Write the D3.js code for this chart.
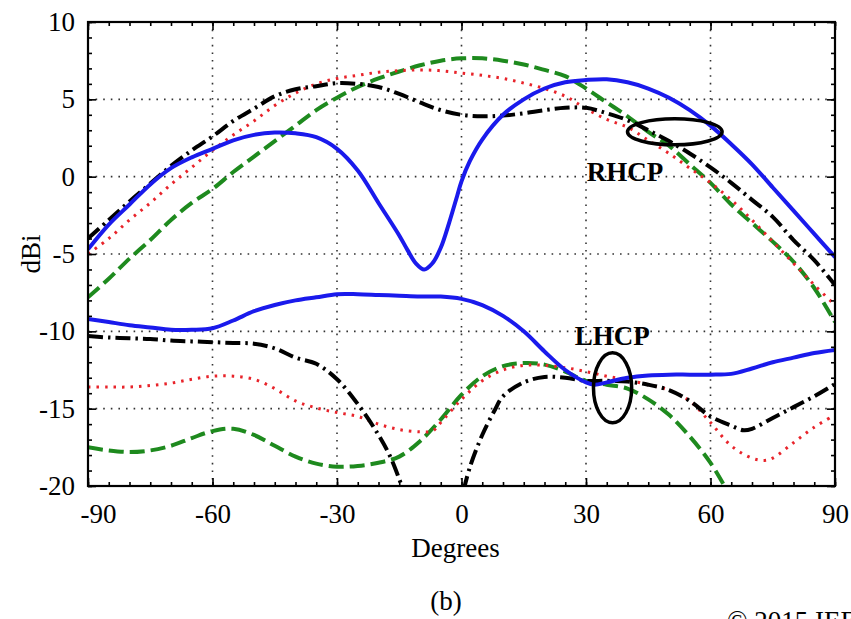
<!DOCTYPE html>
<html>
<head>
<meta charset="utf-8">
<script src="https://cdn.jsdelivr.net/npm/d3@7/dist/d3.min.js"></script>
<style>
  html, body { margin: 0; padding: 0; background: #fff; }
  svg { display: block; }
  text { font-family: "Liberation Serif", "Times New Roman", serif; fill: #000; }
</style>
</head>
<body>
<svg id="chart" width="851" height="619"></svg>
<script>
// ---------- data ----------
const xMajorTicks = [-90, -60, -30, 0, 30, 60, 90];
const xTickLabels = ["-90", "-60", "-30", "0", "30", "60", "90"];
const yMajorTicks = [10, 5, 0, -5, -10, -15, -20];
const yTickLabels = ["10", "5", "0", "-5", "-10", "-15", "-20"];
const xLabel = "Degrees";
const yLabel = "dBi";
const caption = "(b)";
const copyright = "© 2015 IEEE";

// RHCP curves: [degrees, dBi]
const rhcpBlue = [[-90,-4.7],[-85,-3.1],[-80,-1.8],[-75,-0.5],[-70,0.55],[-65,1.25],[-60,1.8],[-55,2.35],[-50,2.7],[-45,2.85],[-40,2.8],[-35,2.55],[-30,1.8],[-25,0.4],[-20,-1.7],[-15,-3.8],[-13,-4.75],[-11,-5.6],[-9,-6.0],[-7,-5.6],[-5,-4.6],[-3,-3.0],[-1,-1.2],[0,-0.3],[2,1.0],[5,2.4],[10,4.0],[15,5.0],[20,5.7],[25,6.1],[30,6.25],[35,6.3],[40,6.1],[45,5.7],[50,5.1],[55,4.3],[60,3.3],[65,2.1],[70,0.8],[75,-0.7],[80,-2.2],[85,-3.7],[90,-5.2]];
const rhcpRed = [[-90,-5.0],[-85,-4.0],[-80,-2.8],[-75,-1.7],[-70,-0.5],[-65,0.6],[-60,1.7],[-55,2.7],[-50,3.6],[-45,4.6],[-40,5.4],[-35,6.0],[-30,6.35],[-25,6.55],[-20,6.75],[-15,6.85],[-10,6.9],[-5,6.85],[0,6.7],[5,6.55],[10,6.35],[15,6.05],[20,5.7],[25,5.2],[30,4.4],[35,3.7],[40,3.2],[45,2.35],[50,1.5],[55,0.55],[60,-0.4],[65,-1.5],[70,-2.8],[75,-4.2],[80,-5.6],[85,-7.0],[90,-8.3]];
const rhcpGreen = [[-90,-7.8],[-85,-6.6],[-80,-5.3],[-75,-4.1],[-70,-2.8],[-65,-1.7],[-60,-0.8],[-55,0.3],[-50,1.3],[-45,2.3],[-40,3.3],[-35,4.3],[-30,5.1],[-25,5.8],[-20,6.35],[-15,6.8],[-10,7.2],[-5,7.5],[0,7.65],[5,7.65],[10,7.5],[15,7.25],[20,6.9],[25,6.5],[30,5.7],[35,4.8],[40,3.9],[45,2.9],[50,2.0],[55,0.8],[60,-0.4],[65,-1.8],[70,-3.0],[75,-4.2],[80,-5.5],[85,-7.2],[90,-9.4]];
const rhcpBlack = [[-90,-4.0],[-85,-2.8],[-80,-1.6],[-75,-0.45],[-70,0.7],[-65,1.7],[-60,2.6],[-55,3.6],[-50,4.4],[-45,5.2],[-40,5.65],[-35,5.85],[-30,6.05],[-25,6.0],[-20,5.8],[-15,5.35],[-10,4.8],[-5,4.3],[0,4.0],[5,3.9],[10,3.95],[15,4.1],[20,4.3],[25,4.45],[30,4.45],[35,4.1],[40,3.65],[45,3.0],[50,2.3],[55,1.5],[60,0.6],[65,-0.4],[70,-1.5],[75,-2.6],[80,-4.1],[85,-5.4],[90,-7.0]];

// LHCP curves: [degrees, dBi]
const lhcpBlue = [[-90,-9.2],[-85,-9.4],[-80,-9.6],[-75,-9.75],[-70,-9.9],[-65,-9.9],[-60,-9.8],[-55,-9.3],[-50,-8.7],[-45,-8.3],[-40,-8.0],[-35,-7.8],[-30,-7.6],[-25,-7.6],[-20,-7.65],[-15,-7.7],[-10,-7.75],[-5,-7.75],[0,-7.9],[5,-8.3],[10,-9.0],[15,-10.0],[20,-11.3],[25,-12.5],[30,-13.3],[32,-13.45],[35,-13.3],[40,-13.0],[45,-12.85],[50,-12.8],[55,-12.8],[60,-12.8],[65,-12.75],[70,-12.4],[75,-12.0],[80,-11.7],[85,-11.4],[90,-11.2]];
const lhcpRed = [[-90,-13.6],[-85,-13.6],[-80,-13.6],[-75,-13.5],[-70,-13.35],[-65,-13.1],[-60,-12.9],[-55,-12.9],[-50,-13.1],[-45,-13.7],[-40,-14.5],[-35,-14.95],[-30,-15.25],[-25,-15.5],[-20,-16.0],[-15,-16.35],[-10,-16.5],[-7,-16.45],[-5,-15.9],[0,-14.4],[5,-13.2],[10,-12.5],[15,-12.2],[20,-12.2],[25,-12.35],[30,-12.6],[35,-12.9],[40,-13.15],[45,-13.45],[50,-13.8],[55,-14.5],[60,-15.9],[65,-17.4],[70,-18.2],[73,-18.35],[75,-18.2],[80,-17.2],[85,-16.2],[90,-15.4]];
const lhcpGreen = [[-90,-17.5],[-85,-17.7],[-80,-17.8],[-75,-17.7],[-70,-17.4],[-65,-16.9],[-60,-16.45],[-55,-16.3],[-50,-16.7],[-45,-17.4],[-40,-18.1],[-35,-18.55],[-30,-18.75],[-25,-18.7],[-20,-18.5],[-15,-18.1],[-10,-17.1],[-5,-15.7],[0,-14.1],[5,-12.9],[10,-12.25],[15,-12.05],[20,-12.15],[25,-12.6],[30,-13.2],[35,-13.45],[40,-13.7],[45,-14.4],[50,-15.4],[55,-16.8],[60,-18.5],[64,-20.3]];
const lhcpBlackLeft = [[-90,-10.3],[-85,-10.4],[-80,-10.45],[-75,-10.5],[-70,-10.6],[-65,-10.65],[-60,-10.7],[-55,-10.75],[-50,-10.8],[-45,-11.1],[-40,-11.7],[-35,-12.1],[-30,-13.1],[-25,-14.7],[-20,-16.7],[-17,-18.2],[-14,-20.3]];
const lhcpBlackRight = [[0.5,-20.3],[2,-18.8],[5,-16.7],[8,-15.1],[10,-14.2],[15,-13.3],[20,-12.95],[25,-13.0],[30,-13.2],[35,-13.2],[40,-13.25],[45,-13.45],[50,-13.8],[55,-14.5],[60,-15.5],[65,-16.1],[68,-16.4],[70,-16.3],[75,-15.6],[80,-14.9],[85,-14.2],[90,-13.4]];

// annotations: [label, degrees, dBi]
const annotationLabels = [["RHCP", 30.2, -0.3], ["LHCP", 27.3, -10.9]];
// ellipses: [centre deg, centre dBi, half-width deg, half-height dBi]
const annotationEllipses = [[51.4, 2.9, 11.4, 0.84], [36.4, -13.65, 4.6, 2.26]];

// ---------- layout ----------
const W = 851, H = 619;
const plotL = 88, plotR = 835, plotT = 22, plotB = 486;
const svg = d3.select("#chart");
const x = d3.scaleLinear().domain([-90, 90]).range([plotL, plotR]);
const y = d3.scaleLinear().domain([-20, 10]).range([plotB, plotT]);

svg.append("defs").append("clipPath").attr("id", "plotclip")
  .append("rect").attr("x", plotL).attr("y", plotT).attr("width", plotR - plotL).attr("height", plotB - plotT);

// grid
const grid = svg.append("g").attr("stroke", "#333").attr("stroke-width", 1.6).attr("stroke-dasharray", "1.6,6");
grid.selectAll("line.vx").data(xMajorTicks.slice(1, -1)).join("line")
  .attr("x1", d => x(d)).attr("x2", d => x(d)).attr("y1", plotT).attr("y2", plotB);
grid.selectAll("line.hy").data(yMajorTicks.slice(1, -1)).join("line")
  .attr("x1", plotL).attr("x2", plotR).attr("y1", d => y(d)).attr("y2", d => y(d));

// curves
const line = d3.line().x(d => x(d[0])).y(d => y(d[1])).curve(d3.curveCatmullRom.alpha(0.5));
const curves = svg.append("g").attr("clip-path", "url(#plotclip)").attr("fill", "none")
  .attr("stroke-linecap", "butt");

const styles = {
  green: { stroke: "#1e8a1e", width: 4, dash: "15,6" },
  red:   { stroke: "#e8232a", width: 3, dash: "2.5,6" },
  black: { stroke: "#000000", width: 4, dash: "15,5,2.5,5" },
  blue:  { stroke: "#1a1aec", width: 4, dash: null }
};
const series = [
  [lhcpGreen, "green"], [rhcpGreen, "green"],
  [lhcpRed, "red"], [rhcpRed, "red"],
  [lhcpBlackLeft, "black"], [lhcpBlackRight, "black"], [rhcpBlack, "black"],
  [lhcpBlue, "blue"], [rhcpBlue, "blue"]
];
series.forEach(([data, key]) => {
  const s = styles[key];
  const p = curves.append("path").datum(data).attr("d", line)
    .attr("stroke", s.stroke).attr("stroke-width", s.width);
  if (s.dash) p.attr("stroke-dasharray", s.dash);
});

// axes (inward ticks)
const fontSize = 27;
const minorX = d3.range(-90, 91, 5);
const minorY = d3.range(-20, 11, 1);
function styleAxis(g) {
  g.select(".domain").remove();
  g.selectAll(".tick line").attr("stroke", "#000").attr("stroke-width", 1.6);
}
svg.append("g").attr("transform", `translate(0,${plotB})`)
  .call(d3.axisBottom(x).tickValues(minorX).tickSize(-4).tickFormat("")).call(styleAxis);
svg.append("g").attr("transform", `translate(0,${plotT})`)
  .call(d3.axisTop(x).tickValues(minorX).tickSize(-4).tickFormat("")).call(styleAxis);
svg.append("g").attr("transform", `translate(${plotL},0)`)
  .call(d3.axisLeft(y).tickValues(minorY).tickSize(-4).tickFormat("")).call(styleAxis);
svg.append("g").attr("transform", `translate(${plotR},0)`)
  .call(d3.axisRight(y).tickValues(minorY).tickSize(-4).tickFormat("")).call(styleAxis);

const xAxis = svg.append("g").attr("transform", `translate(0,${plotB})`)
  .call(d3.axisBottom(x).tickValues(xMajorTicks).tickSize(-8).tickPadding(18)
    .tickFormat((d, i) => xTickLabels[i])).call(styleAxis);
xAxis.selectAll("text").attr("font-size", fontSize).attr("font-family", "Liberation Serif")
  .attr("dx", (d, i) => i === 0 ? 10 : 0);
svg.append("g").attr("transform", `translate(0,${plotT})`)
  .call(d3.axisTop(x).tickValues(xMajorTicks).tickSize(-8).tickFormat("")).call(styleAxis);

const yAxis = svg.append("g").attr("transform", `translate(${plotL},0)`)
  .call(d3.axisLeft(y).tickValues(yMajorTicks).tickSize(-8).tickPadding(13)
    .tickFormat((d, i) => yTickLabels[i])).call(styleAxis);
yAxis.selectAll("text").attr("font-size", fontSize).attr("font-family", "Liberation Serif");
svg.append("g").attr("transform", `translate(${plotR},0)`)
  .call(d3.axisRight(y).tickValues(yMajorTicks).tickSize(-8).tickFormat("")).call(styleAxis);

// frame
svg.append("rect").attr("x", plotL).attr("y", plotT).attr("width", plotR - plotL).attr("height", plotB - plotT)
  .attr("fill", "none").attr("stroke", "#000").attr("stroke-width", 2.2);

// annotations
svg.append("g").selectAll("ellipse").data(annotationEllipses).join("ellipse")
  .attr("cx", d => x(d[0])).attr("cy", d => y(d[1]))
  .attr("rx", d => x(d[0] + d[2]) - x(d[0])).attr("ry", d => y(d[1] - d[3]) - y(d[1]))
  .attr("fill", "none").attr("stroke", "#000").attr("stroke-width", 3.5);
svg.append("g").selectAll("text").data(annotationLabels).join("text")
  .attr("x", d => x(d[1])).attr("y", d => y(d[2]))
  .attr("font-size", fontSize).attr("font-weight", "bold").text(d => d[0]);

// axis titles
svg.append("text").attr("x", (plotL + plotR) / 2 - 6).attr("y", 557)
  .attr("text-anchor", "middle").attr("font-size", fontSize).text(xLabel);
svg.append("text").attr("transform", `translate(40,${(plotT + plotB) / 2})rotate(-90)`)
  .attr("text-anchor", "middle").attr("font-size", fontSize).text(yLabel);
svg.append("text").attr("x", 446).attr("y", 610)
  .attr("text-anchor", "middle").attr("font-size", fontSize).text(caption);
svg.append("text").attr("x", 727).attr("y", 630)
  .attr("font-size", fontSize).text(copyright);
</script>
</body>
</html>
